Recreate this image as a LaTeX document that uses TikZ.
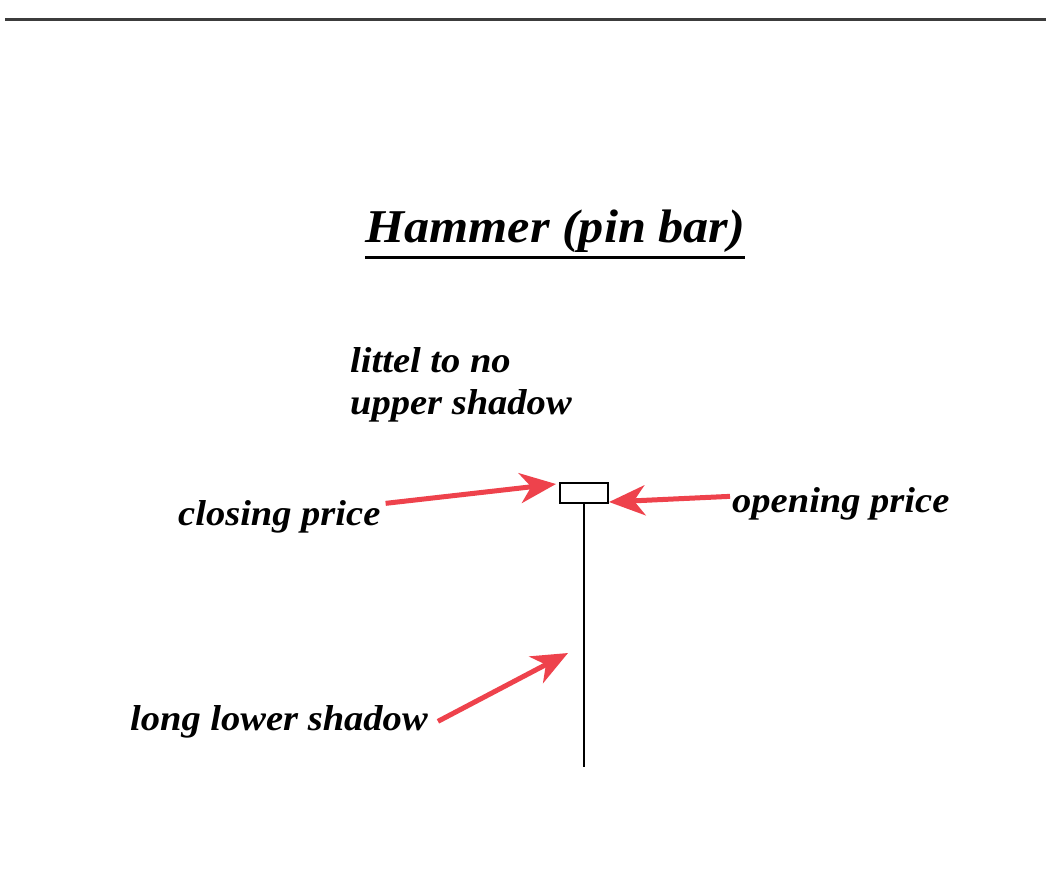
\documentclass[tikz,border=0pt]{standalone}
\usepackage{fontspec}
\setmainfont{Liberation Serif}[FakeStretch=1.07]
\usetikzlibrary{arrows.meta}
\definecolor{arrowred}{RGB}{238,66,76}
\definecolor{ruleg}{RGB}{60,60,60}
\tikzset{
  lbl/.style={inner sep=0pt, font=\fontsize{36}{42}\selectfont\bfseries\itshape, text=black},
  redarrow/.style={draw=arrowred, line width=5pt, -{Stealth[length=36pt, width=30pt, inset=11pt]}},
}
\begin{document}
\begin{tikzpicture}[x=1pt,y=-1pt]
\useasboundingbox (0,0) rectangle (1046,887);
% top rule
\coordinate (rl) at (5,19);
\coordinate (rr) at (1046,19);
\draw[line width=3pt, ruleg] (rl) -- (rr);
% title
\node[inner sep=0pt, anchor=base west, font=\fontsize{47}{50}\selectfont\bfseries\itshape] (title) at (365,242) {Hammer (pin bar)};
\draw[line width=3pt] ([yshift=-5pt]title.south west) -- ([yshift=-5pt]title.south east);
% candle
\node[draw, line width=2pt, minimum width=48pt, minimum height=20pt, inner sep=0pt] (body) at (584,493) {};
\coordinate (wickend) at (584,767);
\draw[line width=2pt] (body.south) -- (wickend);
% labels
\node[lbl, anchor=north west, align=left] (upper) at (350,347) {littel to no\\upper shadow};
\node[lbl, anchor=base west] (closing) at (178,525) {closing price};
\node[lbl, anchor=base west] (opening) at (732,512) {opening price};
\node[lbl, anchor=base west] (lower) at (130,730) {long lower shadow};
\coordinate (lstip) at (568,653);
% arrows
\draw[redarrow] ([xshift=5pt,yshift=13pt]closing.east) -- ([xshift=-3pt,yshift=-2pt]body.north west);
\draw[redarrow] ([xshift=-2pt,yshift=7pt]opening.west) -- ([yshift=2pt]body.south east);
\draw[redarrow] ([xshift=10pt]lower.east) -- (lstip);
\end{tikzpicture}
\end{document}
